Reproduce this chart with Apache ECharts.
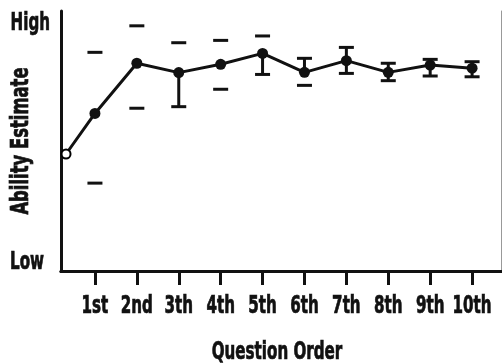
<!DOCTYPE html>
<html>
<head>
<meta charset="utf-8">
<script src="https://cdn.jsdelivr.net/npm/echarts@6/dist/echarts.min.js"></script>
<style>
html,body{margin:0;padding:0;background:#fff;}
#chart{width:502px;height:363px;}
</style>
</head>
<body>
<div id="chart"></div>
<script>
// Data (y: 0 = Low, 100 = High)
var pointX = [0.31, 1, 2, 3, 4, 5, 6, 7, 8, 9, 10];
var estimate = [45, 60.6, 79.9, 76.3, 79.5, 83.7, 76.4, 80.9, 76.4, 79.2, 78.0];
var barX = [1, 2, 3, 4, 5, 6, 7, 8, 9, 10];
var errUpper = [84.1, 94.3, 87.8, 88.7, 90.4, 81.8, 86.0, 79.9, 81.4, 80.5];
var errLower = [33.8, 62.6, 63.2, 69.9, 75.6, 71.4, 76.0, 73.2, 75.0, 74.7];
// visible vertical stem segments (null = no stem drawn)
var stemTop = [null, null, 76.3, null, 83.7, 81.8, 86.0, 79.9, 81.4, 80.5];
var stemBottom = [null, null, 63.2, null, 75.6, 76.4, 76.0, 73.2, 75.0, 74.7];
var xTickValues = [1, 2, 3, 4, 5, 6, 7, 8, 9, 10];
var xTickLabels = ['1st', '2nd', '3th', '4th', '5th', '6th', '7th', '8th', '9th', '10th'];
var yTickValues = [3, 95];
var yTickLabels = ['Low', 'High'];
var xName = 'Question Order';
var yName = 'Ability Estimate';

var FONT = '"DejaVu Sans Condensed", "DejaVu Sans", sans-serif';
var FS = 24;
var SX = 0.7; // horizontal squeeze to mimic a condensed face
var XMIN = 0.19, XMAX = 10.69;

var lineData = pointX.map(function (x, i) {
  var d = { value: [x, estimate[i]] };
  if (i === 0) {
    d.symbolSize = 9;
    d.itemStyle = { color: '#fff', borderColor: '#000', borderWidth: 2 };
  }
  return d;
});
var errData = barX.map(function (x, i) {
  return [x, errUpper[i], errLower[i], stemTop[i], stemBottom[i]];
});

var chart = echarts.init(document.getElementById('chart'), null, { renderer: 'canvas' });
chart.setOption({
  animation: false,
  backgroundColor: '#fff',
  grid: { left: 61, top: 11, right: 1, bottom: 92, containLabel: false, outerBoundsMode: 'none' },
  xAxis: [{
    type: 'value', min: XMIN, max: XMAX,
    axisLine: { show: true, lineStyle: { color: '#111', width: 3 } },
    axisTick: { show: true, customValues: xTickValues, length: 14, lineStyle: { color: '#111', width: 3 } },
    axisLabel: { show: false },
    splitLine: { show: false }
  }, {
    type: 'value', min: XMIN, max: XMAX, position: 'top',
    axisLine: { show: true, lineStyle: { color: '#111', width: 3 } },
    axisTick: { show: false }, axisLabel: { show: false }, splitLine: { show: false }
  }],
  yAxis: [{
    type: 'value', min: 0, max: 100,
    axisLine: { show: true, lineStyle: { color: '#111', width: 3 } },
    axisTick: { show: false },
    axisLabel: { show: false },
    splitLine: { show: false }
  }, {
    type: 'value', min: 0, max: 100, position: 'right',
    axisLine: { show: true, lineStyle: { color: '#999', width: 1 } },
    axisTick: { show: false }, axisLabel: { show: false }, splitLine: { show: false }
  }],
  series: [{
    type: 'custom',
    z: 2,
    data: errData,
    encode: { x: 0, y: [1, 2] },
    renderItem: function (params, api) {
      var x = api.value(0);
      var up = api.coord([x, api.value(1)]);
      var lo = api.coord([x, api.value(2)]);
      var hw = 7.5;
      var children = [
        { type: 'line', shape: { x1: up[0] - hw, y1: up[1], x2: up[0] + hw, y2: up[1] }, style: { stroke: '#111', lineWidth: 3 } },
        { type: 'line', shape: { x1: lo[0] - hw, y1: lo[1], x2: lo[0] + hw, y2: lo[1] }, style: { stroke: '#111', lineWidth: 3 } }
      ];
      var st = api.value(3), sb = api.value(4);
      if (st != null && sb != null && !isNaN(st) && !isNaN(sb)) {
        var a = api.coord([x, st]), b = api.coord([x, sb]);
        children.push({ type: 'line', shape: { x1: a[0], y1: a[1], x2: b[0], y2: b[1] }, style: { stroke: '#111', lineWidth: 3 } });
      }
      return { type: 'group', children: children };
    }
  }, {
    type: 'line',
    z: 3,
    data: lineData,
    symbol: 'circle',
    symbolSize: 11,
    lineStyle: { color: '#111', width: 3 },
    itemStyle: { color: '#111' }
  }]
});

// Text labels placed from the axes' own pixel mapping, squeezed horizontally
function txt(text, x, y, align, rot, sx) {
  return {
    type: 'text', x: x, y: y, rotation: rot || 0, scaleX: sx || SX, z: 10,
    style: {
      text: text, fontFamily: FONT, fontWeight: 'bold', fontSize: FS, fill: '#111',
      stroke: '#111', lineWidth: 0.7,
      align: align, verticalAlign: 'middle'
    }
  };
}
var axisY = chart.convertToPixel({ yAxisIndex: 0 }, 0);
var topY = chart.convertToPixel({ yAxisIndex: 0 }, 100);
var axisX = chart.convertToPixel({ xAxisIndex: 0 }, XMIN);
var rightX = chart.convertToPixel({ xAxisIndex: 0 }, XMAX);
var g = [];
xTickValues.forEach(function (v, i) {
  g.push(txt(xTickLabels[i], chart.convertToPixel({ xAxisIndex: 0 }, v), axisY + 36, 'center'));
});
g.push(txt(yTickLabels[1], axisX - 11, chart.convertToPixel({ yAxisIndex: 0 }, yTickValues[1]), 'right'));
g.push(txt(yTickLabels[0], axisX - 17, chart.convertToPixel({ yAxisIndex: 0 }, yTickValues[0]), 'right'));
g.push(txt(xName, (axisX + rightX) / 2 - 4, axisY + 82, 'center'));
g.push(txt(yName, axisX - 39, (axisY + topY) / 2, 'center', Math.PI / 2, 0.76));
chart.setOption({ graphic: g });
</script>
</body>
</html>
